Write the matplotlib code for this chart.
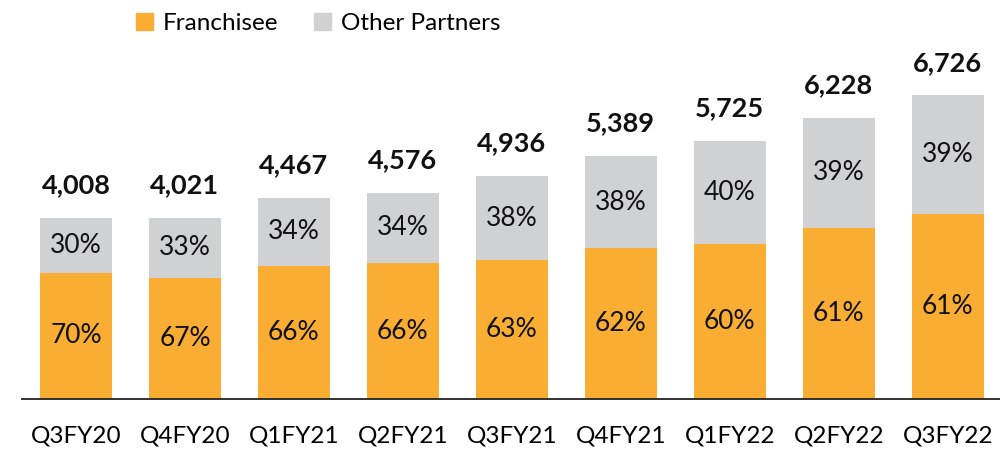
import matplotlib
matplotlib.use("Agg")
import matplotlib.pyplot as plt
from matplotlib.patches import Patch

quarters = ["Q3FY20", "Q4FY20", "Q1FY21", "Q2FY21", "Q3FY21", "Q4FY21", "Q1FY22", "Q2FY22", "Q3FY22"]
totals = [4008, 4021, 4467, 4576, 4936, 5389, 5725, 6228, 6726]
franchisee_pct = [70, 67, 66, 66, 63, 62, 60, 61, 61]
other_pct = [30, 33, 34, 34, 38, 38, 40, 39, 39]

ORANGE = "#F9AE33"
GREY = "#D0D1D3"
FONT = ["Lato", "DejaVu Sans"]
plt.rcParams["font.family"] = FONT

fig = plt.figure(figsize=(10, 4.51), dpi=100)
ax = fig.add_axes([0.0215, 0.1146, 0.9785, 0.8854])

x = list(range(len(quarters)))
fr_vals = [t * p / (p + o) for t, p, o in zip(totals, franchisee_pct, other_pct)]
ot_vals = [t - f for t, f in zip(totals, fr_vals)]

ax.bar(x, fr_vals, width=0.66, color=ORANGE, label="Franchisee")
ax.bar(x, ot_vals, width=0.66, bottom=fr_vals, color=GREY, label="Other Partners")

for i in x:
    ax.text(i, fr_vals[i] / 2, f"{franchisee_pct[i]}%", ha="center", va="center", fontsize=19, color="#111111")
    ax.text(i, fr_vals[i] + ot_vals[i] / 2, f"{other_pct[i]}%", ha="center", va="center", fontsize=19, color="#111111")
    ax.annotate(f"{totals[i]:,}", xy=(i, totals[i]), xytext=(0, 15), textcoords="offset points",
                ha="center", va="bottom", fontsize=19.5, fontweight="bold", color="#111111")

ax.set_xlim(-0.5, 8.48)
ax.set_ylim(0, 8840)
ax.set_xticks(x)
ax.set_xticklabels(quarters, fontsize=17.5)
ax.tick_params(axis="x", length=0, pad=19)
ax.set_yticks([])
for s in ["left", "right", "top"]:
    ax.spines[s].set_visible(False)
ax.spines["bottom"].set_linewidth(1.3)
ax.spines["bottom"].set_color("#222222")

handles = [Patch(color=ORANGE), Patch(color=GREY)]
fig.legend(handles, ["Franchisee", "Other Partners"], loc="center", bbox_to_anchor=(0.318, 0.947),
           ncol=2, frameon=False, fontsize=17.5, handlelength=0.7, handleheight=0.7,
           handletextpad=0.4, columnspacing=1.5)

fig.savefig("out.png", dpi=100)
